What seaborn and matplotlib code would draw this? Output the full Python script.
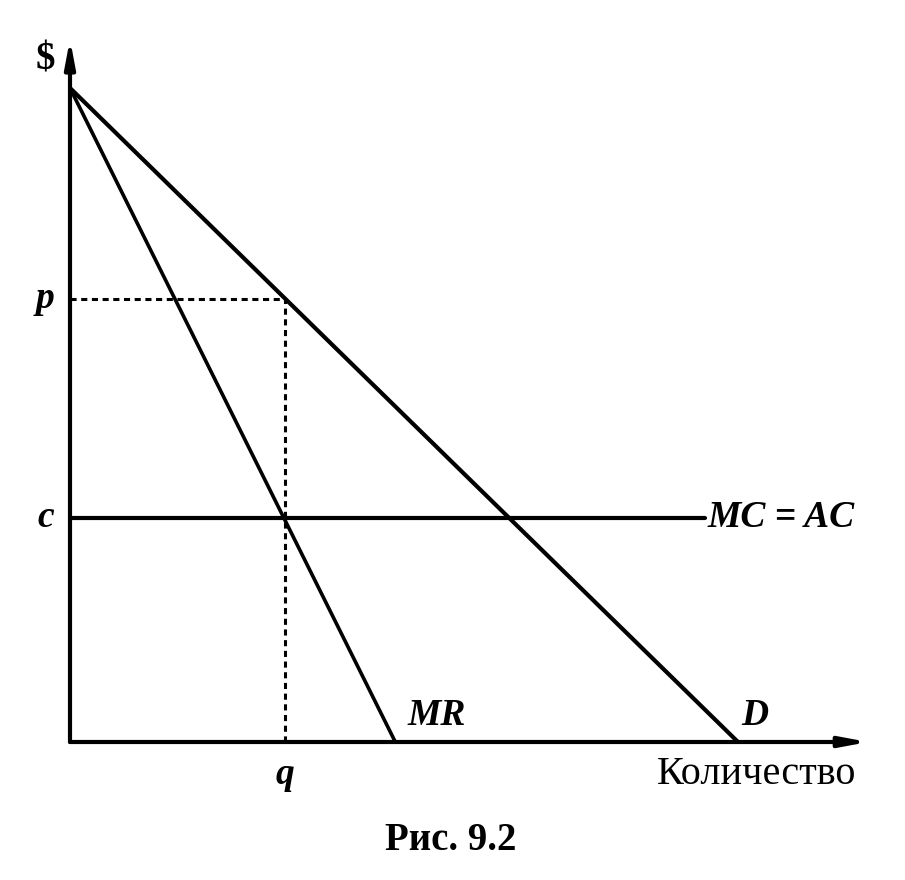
import matplotlib
matplotlib.use("Agg")
import matplotlib.pyplot as plt
import seaborn as sns
import pandas as pd

# Data (economic units)
demand_q = [0.0, 10.0]
demand_p = [10.0, 0.0]
mr_q = [0.0, 4.87]
mr_p = [10.0, 0.0]
mc_q = [0.0, 9.5]
mc_p = [3.43, 3.43]
q_star = 3.22
p_star = 6.78
c_level = 3.43

sns.set_style("white")
plt.rcParams['font.family'] = ['Liberation Serif', 'DejaVu Serif']
plt.rcParams['text.color'] = 'black'

W, H = 905, 880
fig = plt.figure(figsize=(W / 100, H / 100), dpi=100)
px_x = 66.8  # pixels per unit
px_y = 65.4
xmax, ymax = 12.0, 10.8
ax = fig.add_axes([70 / W, 138 / H, xmax * px_x / W, ymax * px_y / H])
ax.set_xlim(0, xmax)
ax.set_ylim(0, ymax)
ax.axis("off")

kw = dict(ax=ax, color="black", clip_on=False, sort=False, estimator=None)
sns.lineplot(x=demand_q, y=demand_p, lw=3.0, **kw)
sns.lineplot(x=mr_q, y=mr_p, lw=2.6, **kw)
sns.lineplot(x=mc_q, y=mc_p, lw=3.0, **kw)
sns.lineplot(x=[0, q_star], y=[p_star, p_star], lw=2.2, linestyle=(0, (2, 1.5)), **kw)
sns.lineplot(x=[q_star, q_star], y=[0, p_star], lw=2.2, linestyle=(0, (2, 1.5)), **kw)

# axes with arrows
arrow = dict(arrowstyle="-|>,head_length=1.6,head_width=0.3", lw=3, color="black",
             shrinkA=0, shrinkB=0)
ax.annotate("", xy=(11.95, 0), xytext=(0, 0), arrowprops=arrow, annotation_clip=False)
ax.annotate("", xy=(0, 10.75), xytext=(0, 0), arrowprops=arrow, annotation_clip=False)

tk = dict(fontsize=27, fontweight="bold", fontstyle="italic", color="black")
ax.text(-0.37, 10.43, "$", fontsize=28, fontweight="bold", ha="center", va="center", color="black")
ax.text(-0.37, p_star, "p", ha="center", va="center", **tk)
ax.text(-0.37, c_level, "c", ha="center", va="center", **tk)
ax.text(q_star, -0.5, "q", ha="center", va="center", **tk)
ax.text(5.49, 0.41, "MR", ha="center", va="center", **tk)
ax.text(10.25, 0.41, "D", ha="center", va="center", **tk)
ax.text(9.55, c_level, "MC = AC", ha="left", va="center", **tk)
ax.text(10.28, -0.5, "Количество", fontsize=29, ha="center", va="center", color="black")
ax.text(5.7, -1.5, "Рис. 9.2", fontsize=28, fontweight="bold", ha="center", va="center", color="black")

fig.savefig("out.png", dpi=100)
